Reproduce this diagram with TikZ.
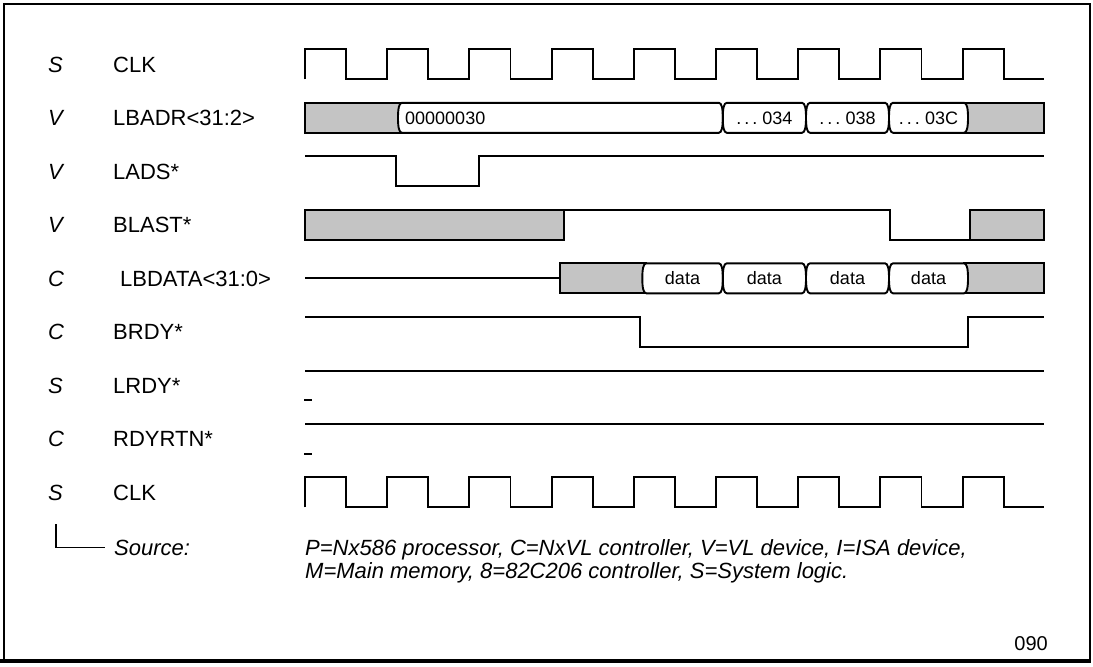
\documentclass[tikz,border=0pt]{standalone}
\usepackage{fontspec}
\setmainfont{Liberation Sans}
\newcommand\clockwave[1]{%
  \draw[wave] (305,{#1+15}) \foreach \k in {0,...,8}{ -- ({305+82.2*\k},{#1+15}) -- ({305+82.2*\k},{#1-15}) -- ({346.1+82.2*\k},{#1-15}) -- ({346.1+82.2*\k},{#1+15}) } -- (1044,{#1+15});%
}
\newcommand\busseg[3]{% a, b, center
  \draw[wave, fill=white] ({#1+4},{#3-15}) -- ({#2-4},{#3-15}) .. controls ({#2-1},{#3-15}) and (#2,{#3-9}) .. (#2,#3) .. controls (#2,{#3+9}) and ({#2-1},{#3+15}) .. ({#2-4},{#3+15}) -- ({#1+4},{#3+15}) .. controls ({#1+1},{#3+15}) and (#1,{#3+9}) .. (#1,#3) .. controls (#1,{#3-9}) and ({#1+1},{#3-15}) .. cycle;%
}
\begin{document}
\begin{tikzpicture}[x=1pt,y=-1pt,
  wave/.style={line width=1.9pt, line join=miter},
  shadebox/.style={wave, fill=black!23},
  lbl/.style={anchor=base west, inner sep=0pt, font=\fontsize{22}{24}\selectfont},
  srcl/.style={anchor=base west, inner sep=0pt, font=\fontsize{22}{24}\selectfont\itshape},
  bustxt/.style={anchor=base, inner sep=0pt, font=\fontsize{18}{20}\selectfont},
]
\useasboundingbox (0,0) rectangle (1093,667);
% frame
\draw[line width=1.4pt] (4,661) -- (4,4) -- (1090,4) -- (1090,661);
\draw[line width=3.5pt] (0,661) -- (1091,661);

% row labels
\foreach \c/\s/\n/\xx/\nm in {64.3/S/CLK/113/a, 117.8/V/LBADR<31:2>/113/b, 171.3/V/LADS*/113/c, 224.8/V/BLAST*/113/d, 278.3/C/LBDATA<31:0>/120/e, 331.8/C/BRDY*/113/f, 385.3/S/LRDY*/113/g, 438.8/C/RDYRTN*/113/h, 492.3/S/CLK/113/i}{
  \node[srcl] (src\nm) at (48,{\c+8}) {\s};
  \node[lbl] (sig\nm) at (\xx,{\c+8}) {\n};
}

% CLK top and bottom
\clockwave{64.3}
\clockwave{492.3}

% LBADR<31:2>
\draw[shadebox] (305,102.8) rectangle (402,132.8);
\draw[shadebox] (964,102.8) rectangle (1044,132.8);
\busseg{398}{722.8}{117.8}
\busseg{722.8}{806}{117.8}
\busseg{806}{889}{117.8}
\busseg{889}{968}{117.8}
\node[bustxt, anchor=base west] (adr0) at (405,124.3) {00000030};
\node[bustxt] (adr1) at (764.4,124.3) {.\,.\,.\;034};
\node[bustxt] (adr2) at (847.5,124.3) {.\,.\,.\;038};
\node[bustxt] (adr3) at (928.5,124.3) {.\,.\,.\;03C};

% LADS*
\draw[wave] (305,156.3) -- (396,156.3) -- (396,186.3) -- (479,186.3) -- (479,156.3) -- (1044,156.3);

% BLAST*
\draw[shadebox] (305,209.8) rectangle (564,239.8);
\draw[wave] (564,209.8) -- (890,209.8) -- (890,239.8) -- (970,239.8);
\draw[shadebox] (970,209.8) rectangle (1044,239.8);

% LBDATA<31:0>
\draw[wave] (305,278.3) -- (560,278.3);
\draw[shadebox] (560,263.3) rectangle (646.3,293.3);
\draw[shadebox] (964,263.3) rectangle (1044,293.3);
\busseg{642.3}{722.8}{278.3}
\busseg{722.8}{806}{278.3}
\busseg{806}{889}{278.3}
\busseg{889}{968}{278.3}
\node[bustxt] (dat0) at (682.5,284.8) {data};
\node[bustxt] (dat1) at (764.4,284.8) {data};
\node[bustxt] (dat2) at (847.5,284.8) {data};
\node[bustxt] (dat3) at (928.5,284.8) {data};

% BRDY*
\draw[wave] (305,316.8) -- (640,316.8) -- (640,346.8) -- (968.3,346.8) -- (968.3,316.8) -- (1044,316.8);

% LRDY*
\draw[wave] (305,370.8) -- (1044,370.8);
\draw[wave] (304,400.3) -- (311.7,400.3);

% RDYRTN*
\draw[wave] (305,424.3) -- (1044,424.3);
\draw[wave] (304,453.8) -- (311.7,453.8);

% legend
\node[srcl] (srcword) at (114,555) {Source:};
\coordinate (brk) at (56,524);
\draw[line width=1.4pt] (brk) |- ([xshift=-9pt]srcword.west);
\node[srcl] (leg1) at (305,555) {P=Nx586 processor, C=NxVL controller, V=VL device, I=ISA device,};
\node[srcl] (leg2) at (305,578) {M=Main memory, 8=82C206 controller, S=System logic.};
\node[anchor=base east, inner sep=0pt, font=\fontsize{20}{22}\selectfont] (fignum) at (1048,650) {090};
\end{tikzpicture}
\end{document}
